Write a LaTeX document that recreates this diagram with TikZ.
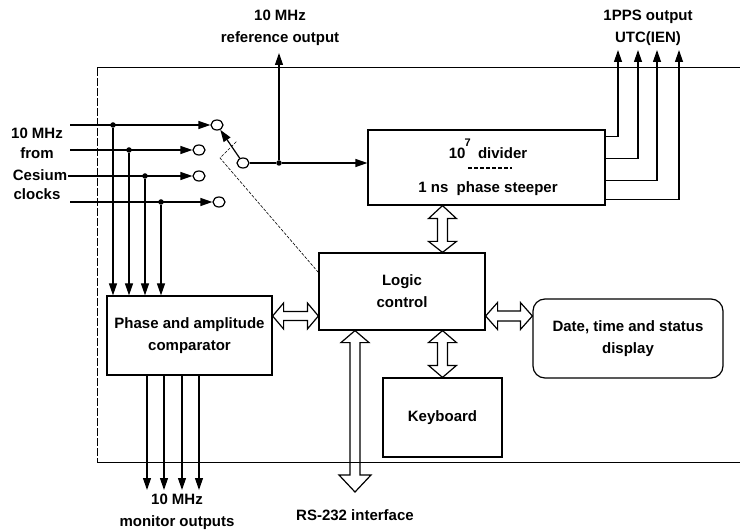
\documentclass[tikz,border=0pt]{standalone}
\usepackage{fontspec}
\setmainfont{Liberation Sans}
\usetikzlibrary{arrows.meta,calc,shapes.geometric}
\newcommand\hollowV[7]{\draw[hollow] let \p1=#1, \p2=#2 in (\x1,\y1) -- (\x1+#4,\y1-#5) -- (\x1+#3,\y1-#5) -- (\x1+#3,\y2+#7) -- (\x1+#6,\y2+#7) -- (\x1,\y2) -- (\x1-#6,\y2+#7) -- (\x1-#3,\y2+#7) -- (\x1-#3,\y1-#5) -- (\x1-#4,\y1-#5) -- cycle;}
\newcommand\hollowH[5]{\draw[hollow] let \p1=#1, \p2=#2 in (\x1,\y1) -- (\x1+#5,\y1+#4) -- (\x1+#5,\y1+#3) -- (\x2-#5,\y1+#3) -- (\x2-#5,\y1+#4) -- (\x2,\y1) -- (\x2-#5,\y1-#4) -- (\x2-#5,\y1-#3) -- (\x1+#5,\y1-#3) -- (\x1+#5,\y1-#4) -- cycle;}
\begin{document}
\begin{tikzpicture}[x=1pt,y=-1pt,
  every node/.style={font=\fontsize{15}{22}\selectfont\bfseries, inner sep=0pt},
  box/.style={draw, line width=1.2pt, align=center},
  ln/.style={line width=1.2pt},
  arr/.style={ln, -{Triangle[length=12pt,width=8pt]}},
  contact/.style={draw, ellipse, line width=1.2pt, minimum width=12pt, minimum height=10pt, inner sep=0pt, fill=white},
  dot/.style={circle, fill, minimum size=5.5pt, inner sep=0pt},
  hollow/.style={draw, line width=1.2pt, fill=white, line join=miter},
  lbl/.style={align=center}]
\useasboundingbox (0,0) rectangle (740,532);

% blocks
\node[box, minimum width=237pt, minimum height=75pt] (div) at (486.5,167.5) {};
\node[box, minimum width=166pt, minimum height=77pt] (logic) at (402,291.5) {Logic\\control};
\node[box, minimum width=165pt, minimum height=79pt] (comp) at (189.5,335.5) {Phase and amplitude\\comparator};
\node[box, rounded corners=12pt, minimum width=190pt, minimum height=79pt] (disp) at (628,338.5) {Date, time and status\\display};
\node[box, minimum width=119pt, minimum height=79pt] (kbd) at (442.5,417.5) {Keyboard};

% divider texts
\node (dtxt1) at (488,149) {10\hspace{-0.05em}\raisebox{0.8em}{\fontsize{11}{11}\selectfont 7}\hspace{0.2em} divider};
\node (dtxt2) at (488,189) {1 ns\ \ phase steeper};
\draw[line width=1.3pt, dash pattern=on 4pt off 2pt] (468,168) -- (512,168);

% labels
\node[lbl] (reflbl) at (280,28) {10 MHz\\reference output};
\node[lbl] (ppslbl) at (648,28) {1PPS output\\UTC(IEN)};
\node (l1) at (37,133) {10 MHz};
\node (l2) at (37,153) {from};
\node (l3) at (40,175) {Cesium};
\node (l4) at (37,194) {clocks};
\node[lbl] (monlbl) at (177,512) {10 MHz\\monitor outputs};
\node (rslbl) at (355,515) {RS-232 interface};

% switch contacts
\node[contact] (c1) at (217,125) {};
\node[contact] (c2) at (199,150) {};
\node[contact] (c3) at (199,176) {};
\node[contact] (c4) at (219,202) {};
\node[contact] (pv) at (243,163) {};

% inputs
\coordinate (i1) at (70,125);
\coordinate (i2) at (70,150);
\coordinate (i3) at (68,176);
\coordinate (i4) at (70,202);
\draw[arr] (i1) -- (c1);
\draw[arr] (i2) -- (c2);
\draw[arr] (i3) -- (c3);
\draw[arr] (i4) -- (c4);
\node[dot] (d1) at (113,125) {};
\node[dot] (d2) at (129,150) {};
\node[dot] (d3) at (145,176) {};
\node[dot] (d4) at (161,202) {};
\draw[arr] (d1) -- (d1 |- comp.north);
\draw[arr] (d2) -- (d2 |- comp.north);
\draw[arr] (d3) -- (d3 |- comp.north);
\draw[arr] (d4) -- (d4 |- comp.north);

% switch arm and reference output
\draw[arr] (pv) -- (c1);
\node[dot] (j) at (279,163) {};
\draw[ln] (pv) -- (j);
\draw[arr] (j) -- (div.west |- j);
\coordinate (refout) at (279,53);
\draw[arr] (j) -- (refout);

% mechanical linkage
\coordinate (lk1) at ($(logic.north west)+(0,20)$);
\coordinate (lk2) at (220,158);
\coordinate (lk3) at (237,141);
\draw[line width=0.6pt, dash pattern=on 3pt off 1.5pt] (lk1) -- (lk2) -- (lk3);

% 1PPS outputs
\coordinate (p1) at (618,50);
\coordinate (p2) at (638,50);
\coordinate (p3) at (657,50);
\coordinate (p4) at (679,50);
\draw[arr] ($(div.north east)+(0,7)$) -| (p1);
\draw[arr] ($(div.north east)+(0,29)$) -| (p2);
\draw[arr] ($(div.north east)+(0,51)$) -| (p3);
\draw[arr] ($(div.north east)+(0,70)$) -| (p4);

% monitor outputs
\coordinate (m1) at (147,490);
\coordinate (m2) at (164,490);
\coordinate (m3) at (182,490);
\coordinate (m4) at (199,490);
\draw[arr] (comp.south -| m1) -- (m1);
\draw[arr] (comp.south -| m2) -- (m2);
\draw[arr] (comp.south -| m3) -- (m3);
\draw[arr] (comp.south -| m4) -- (m4);

% hollow double arrows
\hollowV{(div.south -| kbd.north)}{(kbd.north |- logic.north)}{5pt}{14pt}{13pt}{14pt}{11pt}
\hollowV{(logic.south -| kbd.north)}{(kbd.north)}{5pt}{14pt}{12pt}{14pt}{12pt}
\coordinate (rs) at (355,492);
\hollowV{(logic.south -| rs)}{(rs)}{5pt}{14pt}{12pt}{16pt}{17pt}
\coordinate (hy) at (0,316);
\hollowH{(comp.east |- hy)}{(logic.west |- hy)}{4.5pt}{13pt}{11pt}
\hollowH{(logic.east |- hy)}{(disp.west |- hy)}{5pt}{13.5pt}{12pt}

% enclosure
\draw[line width=1pt] (740,68) -- (97,68);
\draw[line width=1pt] (97,462) -- (740,462);
\draw[line width=0.7pt, dash pattern=on 8pt off 2pt] (97,68) -- (97,462);
\end{tikzpicture}
\end{document}
